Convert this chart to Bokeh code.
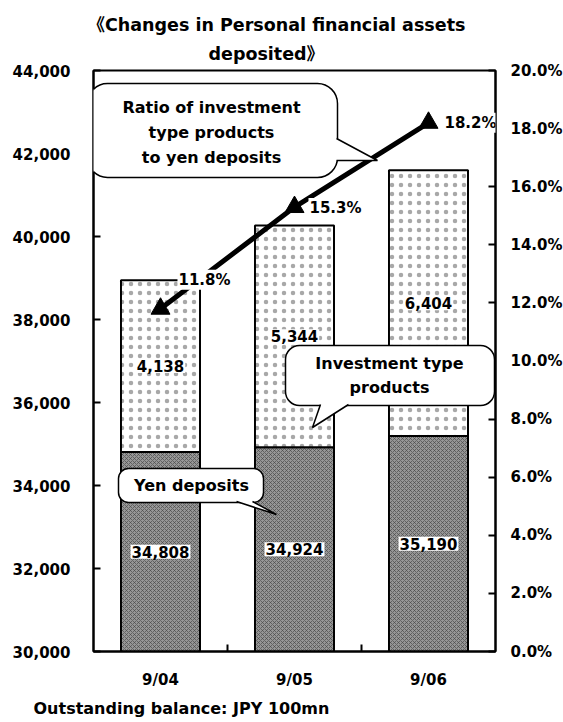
from bokeh.plotting import figure
from bokeh.models import (Range1d, LinearAxis, FixedTicker, NumeralTickFormatter,
                          PrintfTickFormatter, Label, BoxAnnotation, Title)
from bokeh.embed import file_html
from bokeh.resources import INLINE

# ---------------- data ----------------
categories = ["9/04", "9/05", "9/06"]
yen_deposits = [34808, 34924, 35190]
investment_products = [4138, 5344, 6404]
ratio_pct = [11.8, 15.3, 18.2]
left_ticks = [30000, 32000, 34000, 36000, 38000, 40000, 42000, 44000]
right_ticks = [0, 2, 4, 6, 8, 10, 12, 14, 16, 18, 20]

title_lines = ["《Changes in Personal financial assets", "deposited》"]
caption = "Outstanding balance: JPY 100mn"
callout_ratio = ["Ratio of investment", "type products", "to yen deposits"]
callout_invest = ["Investment type", "products"]
callout_yen = ["Yen deposits"]

FONT = "DejaVu Sans"
TFONT = "DejaVu Sans, Noto Sans CJK JP"
n = len(categories)
xs = list(range(n))
totals = [a + b for a, b in zip(yen_deposits, investment_products)]
ymin, ymax = left_ticks[0], left_ticks[-1]

# layout (pixels of the plot frame on the canvas)
FL, FR, FT, FB = 93, 495, 70, 651


def dx(px):
    return -0.5 + (px - FL) / (FR - FL) * n


def dy(py):
    return ymin + (FB - py) / (FB - FT) * (ymax - ymin)


p = figure(frame_width=FR - FL, frame_height=FB - FT, title=None,
           x_range=Range1d(-0.5, n - 0.5), y_range=Range1d(ymin, ymax),
           output_backend="svg", toolbar_location=None,
           min_border_left=FL, min_border_top=FT,
           min_border_bottom=66, min_border_right=10,
           background_fill_color="white", border_fill_color="white")
p.xgrid.visible = False
p.ygrid.visible = False
p.outline_line_color = "black"
p.outline_line_width = 2
p.outline_line_alpha = 1

# x axis
xa = p.xaxis[0]
xa.ticker = FixedTicker(ticks=xs, minor_ticks=[i + 0.5 for i in xs[:-1]])
xa.major_label_overrides = {i: c for i, c in zip(xs, categories)}
xa.major_tick_line_color = None
xa.minor_tick_in = 7
xa.minor_tick_out = 0
xa.minor_tick_line_color = "black"
xa.minor_tick_line_width = 2
xa.axis_line_width = 2
xa.major_label_standoff = 13

# left axis
ya = p.yaxis[0]
ya.ticker = FixedTicker(ticks=left_ticks)
ya.formatter = NumeralTickFormatter(format="0,0")
ya.major_tick_in = 7
ya.major_tick_out = 0
ya.major_tick_line_width = 2
ya.minor_tick_line_color = None
ya.axis_line_width = 2
ya.major_label_standoff = 23

# right axis
p.extra_y_ranges = {"pct": Range1d(right_ticks[0], right_ticks[-1])}
ra = LinearAxis(y_range_name="pct", ticker=FixedTicker(ticks=right_ticks),
                formatter=PrintfTickFormatter(format="%.1f%%"))
ra.major_tick_in = 7
ra.major_tick_out = 0
ra.major_tick_line_width = 2
ra.minor_tick_line_color = None
ra.axis_line_width = 2
ra.major_label_standoff = 15
p.add_layout(ra, "right")

for ax in (xa, ya, ra):
    ax.major_label_text_font = FONT
    ax.major_label_text_font_style = "bold"
    ax.major_label_text_font_size = "15px"
    ax.major_label_text_color = "black"

# bars
BW = 0.59
p.vbar(x=xs, width=BW, bottom=0, top=yen_deposits,
       fill_color="#969696", line_color="black", line_width=2,
       hatch_pattern="diagonal_cross", hatch_color="#444444",
       hatch_scale=4, hatch_weight=0.8, hatch_alpha=0.8)
p.vbar(x=xs, width=BW, bottom=yen_deposits, top=totals,
       fill_color="white", line_color="black", line_width=2,
       hatch_pattern="dot", hatch_color="#a8a8a8", hatch_scale=9, hatch_weight=0.5)

# ratio line
p.line(xs, ratio_pct, y_range_name="pct", line_width=5, line_color="black")
p.scatter(xs, ratio_pct, y_range_name="pct", marker="triangle", size=19,
          fill_color="black", line_color="black")


def txt(**kw):
    base = dict(text_font=FONT, text_font_style="bold", text_font_size="15px",
                text_color="black", text_align="center", text_baseline="middle")
    base.update(kw)
    return Label(**base)


# value labels
for i in xs:
    p.add_layout(txt(x=xs[i], y=(ymin + yen_deposits[i]) / 2, text=f"{yen_deposits[i]:,}",
                     background_fill_color="white", padding=1))
    p.add_layout(txt(x=xs[i], y=(yen_deposits[i] + totals[i]) / 2,
                     text=f"{investment_products[i]:,}",
                     background_fill_color="white", padding=1))

# ratio labels
pct_offsets = [(44, 29), (41, -1), (42, 0)]
for i in xs:
    ox, oy = pct_offsets[i]
    p.add_layout(txt(x=xs[i], y=ratio_pct[i], y_range_name="pct", x_offset=ox, y_offset=oy,
                     text=f"{ratio_pct[i]:.1f}%", background_fill_color="white", padding=1))


# callouts
def callout(box, radius, tail, lines, line_ys, cx):
    l, r, t, b = box
    p.add_layout(BoxAnnotation(left=dx(l), right=dx(r), top=dy(t), bottom=dy(b),
                               fill_color="white", fill_alpha=1, line_color="black",
                               line_width=1.5, line_alpha=1, border_radius=radius))
    (b1, tip, b2), inner = tail
    poly = [b1, tip, b2] + inner
    p.patch([dx(q[0]) for q in poly], [dy(q[1]) for q in poly],
            fill_color="white", line_color=None, level="overlay")
    p.line([dx(q[0]) for q in (b1, tip, b2)], [dy(q[1]) for q in (b1, tip, b2)],
           line_color="black", line_width=1.5, level="overlay")
    for s, yy in zip(lines, line_ys):
        p.add_layout(txt(x=dx(cx), y=dy(yy), text=s, text_font_size="16px"))


callout((87, 337, 83, 177), 20,
        (((336, 138), (377, 160), (336, 160)), [(330, 161), (330, 137)]),
        callout_ratio, [107, 132, 157], 211)
callout((285, 494, 345, 405), 14,
        (((320, 404), (312, 427), (348, 404)), [(350, 399), (318, 399)]),
        callout_invest, [363, 387], 389)
callout((118, 263, 468, 502), 10,
        (((236, 501), (276, 514), (252, 501)), [(254, 496), (234, 496)]),
        callout_yen, [485], 191)

# title (two lines; later-added sits farther from the frame) and caption
tstyle = dict(text_font=TFONT, text_font_style="bold", text_font_size="17.5px",
              text_color="black", align="left")
p.add_layout(Title(text=title_lines[1], offset=115, standoff=14, **tstyle), "above")
p.add_layout(Title(text=title_lines[0], offset=-6, standoff=0, **tstyle), "above")
p.add_layout(Title(text=caption, text_font=FONT, text_font_style="bold",
                   text_font_size="16px", text_color="black", align="left",
                   offset=33 - FL, standoff=10), "below")

open("out.html", "w").write(file_html(p, INLINE))
